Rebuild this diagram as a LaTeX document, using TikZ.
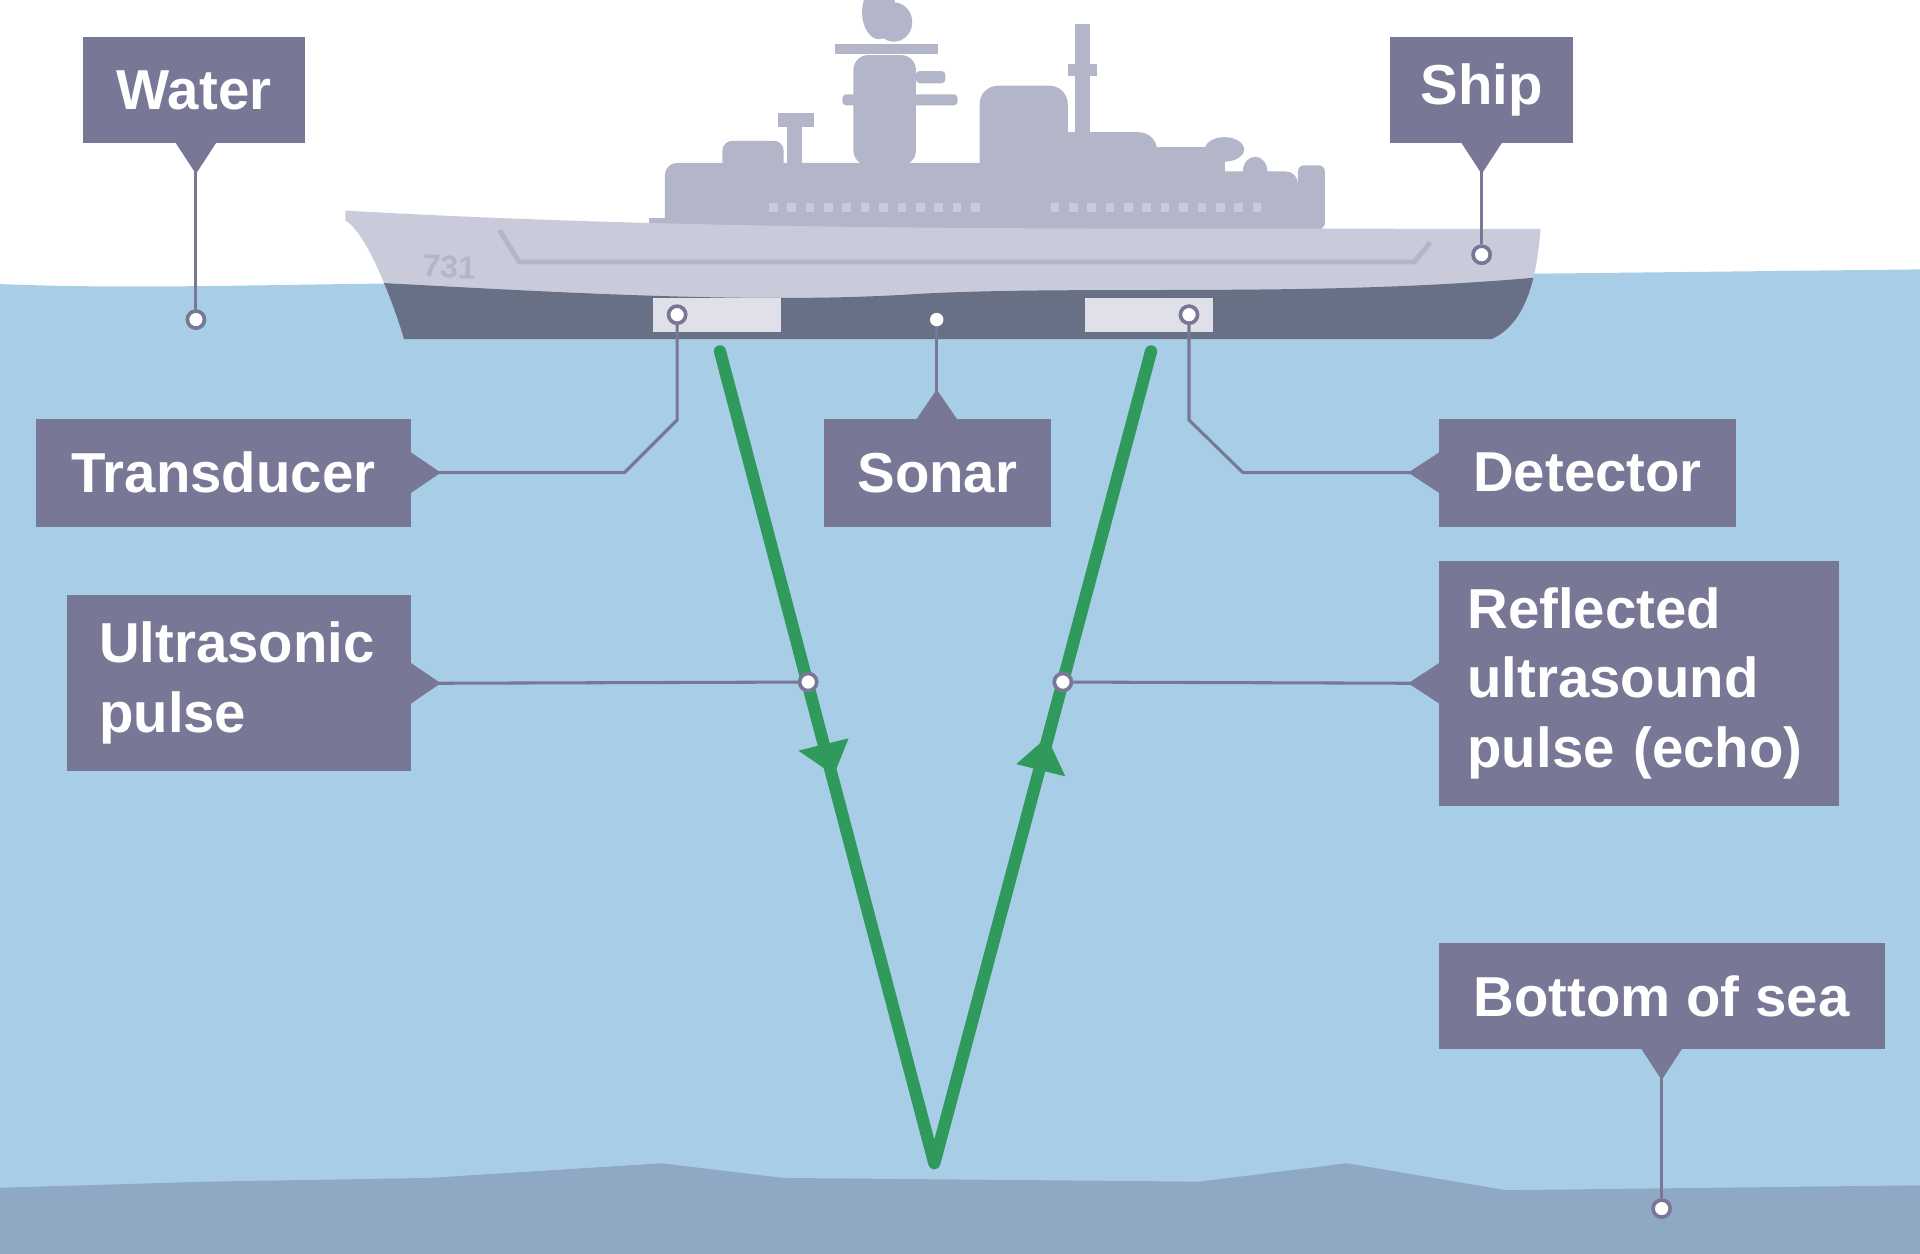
\documentclass[tikz,border=0pt]{standalone}
\usepackage{fontspec}
\setmainfont{Liberation Sans}
\begin{document}
\begin{tikzpicture}[x=1pt,y=-1pt,
  lab/.style={fill=labc,text=white,font=\bfseries\fontsize{46}{57}\selectfont,inner sep=0pt,align=left},
  con/.style={draw=labc,line width=2.5pt},
  pin/.style={circle,fill=white,draw=labc,line width=3pt,minimum size=14pt,inner sep=0pt},
  beam/.style={draw=beamc,line width=10pt,line cap=round,line join=round},
  sup/.style={fill=shipc}]
\definecolor{labc}{HTML}{787896}
\definecolor{waterc}{HTML}{A8CDE7}
\definecolor{bedc}{HTML}{8FA9C5}
\definecolor{shipc}{HTML}{B3B6C8}
\definecolor{hullc}{HTML}{C9CBDB}
\definecolor{darkc}{HTML}{687086}
\definecolor{beamc}{HTML}{2F9A5B}
\useasboundingbox (0,0) rectangle (1568,1024);
\fill[white] (0,0) rectangle (1568,1024);
% water
\fill[waterc] (0,232) .. controls (150,238) and (300,228) .. (500,232) -- (1568,220) -- (1568,1024) -- (0,1024) -- cycle;
% sea bed
\fill[bedc] (0,970) -- (170,965) -- (350,962) -- (540,950) -- (640,962) -- (980,965) -- (1100,950) -- (1230,972) -- (1568,968) -- (1568,1024) -- (0,1024) -- cycle;
% superstructure
\fill[sup] (530,178) rectangle (1080,188);
\fill[sup,rounded corners=10pt] (543,133) rectangle (810,190);
\fill[sup] (800,120) rectangle (1000,188);
\fill[sup,rounded corners=8pt] (590,115) rectangle (640,140);
\fill[sup] (643,100) rectangle (655,135);
\fill[sup] (635,92) rectangle (665,104);
\fill[sup,rounded corners=12pt] (697,45) rectangle (748,135);
\fill[sup] (718,10) ellipse (14pt and 22pt);
\fill[sup] (730,18) ellipse (15pt and 16pt);
\fill[sup] (682,36) rectangle (766,44);
\fill[sup,rounded corners=3pt] (688,77) rectangle (782,86);
\fill[sup,rounded corners=3pt] (748,58) rectangle (772,68);
\fill[sup,rounded corners=15pt] (800,70) rectangle (872,160);
\fill[sup] (878,20) rectangle (890,110);
\fill[sup] (872,52) rectangle (896,62);
\fill[sup] (860,108) rectangle (930,187);
\fill[sup,rounded corners=15pt] (900,108) rectangle (945,165);
\fill[sup,rounded corners=10pt] (950,140) rectangle (1060,187);
\fill[sup] (1000,122) ellipse (16pt and 10pt);
\fill[sup] (1025,140) ellipse (10pt and 12pt);
\fill[sup,rounded corners=5pt] (1060,135) rectangle (1082,187);
\foreach \x in {628,643,...,800} \fill[hullc] (\x,166) rectangle (\x+7,173);
\foreach \x in {858,873,...,1030} \fill[hullc] (\x,166) rectangle (\x+7,173);
% hull
\fill[hullc] (282,172) .. controls (600,190) and (900,186) .. (1258,187)
  .. controls (1255,230) and (1245,265) .. (1218,277) -- (330,277)
  .. controls (322,250) and (300,190) .. (282,180) -- cycle;
\begin{scope}
\clip (282,172) .. controls (600,190) and (900,186) .. (1258,187)
  .. controls (1255,230) and (1245,265) .. (1218,277) -- (330,277)
  .. controls (322,250) and (300,190) .. (282,180) -- cycle;
\fill[darkc] (250,228) .. controls (400,235) and (600,250) .. (750,240) .. controls (900,232) and (1100,245) .. (1300,222) -- (1300,300) -- (250,300) -- cycle;
\end{scope}
\draw[shipc,line width=4pt] (408,188) -- (424,214) -- (1155,214) -- (1168,198);
\node[text=shipc,font=\bfseries\fontsize{26}{26}\selectfont,rotate=-3] (num) at (367,218) {731};
\fill[hullc!60!white] (533,243) rectangle (638,271);
\fill[hullc!60!white] (886,243) rectangle (991,271);
% beams
\coordinate (b1) at (588,287); \coordinate (b2) at (763,950); \coordinate (b3) at (940,287);
\draw[beam] (b1) -- (b2) -- (b3);
\fill[beamc] (681,633) -- (652,613) -- (693,603) -- cycle;
\fill[beamc] (855,602) -- (830,624) -- (870,634) -- cycle;
% labels
\node[lab,minimum width=181pt,minimum height=87pt,align=center] (water) at (158.5,73.5) {Water};
\fill[labc] (143,116) -- (160,142) -- (177,116) -- cycle;
\node[lab,minimum width=150pt,minimum height=87pt,align=center] (ship) at (1210,73.5) {Ship};
\fill[labc] (1193,116) -- (1210,142) -- (1227,116) -- cycle;
\node[lab,minimum width=307pt,minimum height=88pt,align=center] (trans) at (182.5,386) {Transducer};
\fill[labc] (335,369) -- (360,386) -- (335,403) -- cycle;
\node[lab,minimum width=185pt,minimum height=88pt,align=center] (sonar) at (765.5,386) {Sonar};
\fill[labc] (748,343) -- (765,318) -- (782,343) -- cycle;
\node[lab,minimum width=243pt,minimum height=88pt,align=center] (det) at (1296.5,386) {Detector};
\fill[labc] (1176,369) -- (1150,386) -- (1176,403) -- cycle;
\node[lab,minimum width=281pt,minimum height=144pt,text width=229pt] (ultra) at (195.5,558) {Ultrasonic\\pulse};
\fill[labc] (335,541) -- (360,558) -- (335,575) -- cycle;
\node[lab,minimum width=327pt,minimum height=200pt,text width=280pt] (refl) at (1338.5,558) {Reflected\\ultrasound\\pulse~(echo)};
\fill[labc] (1176,541) -- (1150,558) -- (1176,575) -- cycle;
\node[lab,minimum width=364pt,minimum height=87pt,align=center] (bottom) at (1357,813.5) {Bottom of sea};
\fill[labc] (1340,856) -- (1357,882) -- (1374,856) -- cycle;
% connectors
\node[pin] (pw) at (160,261) {};
\node[pin] (ps) at (1210,208) {};
\node[pin] (pt) at (553,257) {};
\node[circle,fill=white,minimum size=11pt,inner sep=0pt] (pso) at (765,261) {};
\node[pin] (pd) at (971,257) {};
\node[pin] (pu) at (660,557) {};
\node[pin] (pr) at (868,557) {};
\node[pin] (pb) at (1357,987) {};
\draw[con] (160,140) -- (pw);
\draw[con] (1210,140) -- (ps);
\draw[con] (358,386) -- (510,386) -- (553,343) -- (pt);
\draw[con] (765,320) -- (pso);
\draw[con] (1152,386) -- (1015,386) -- (971,343) -- (pd);
\draw[con] (358,558) -- (pu);
\draw[con] (1152,558) -- (pr);
\draw[con] (1357,880) -- (pb);
\end{tikzpicture}
\end{document}
